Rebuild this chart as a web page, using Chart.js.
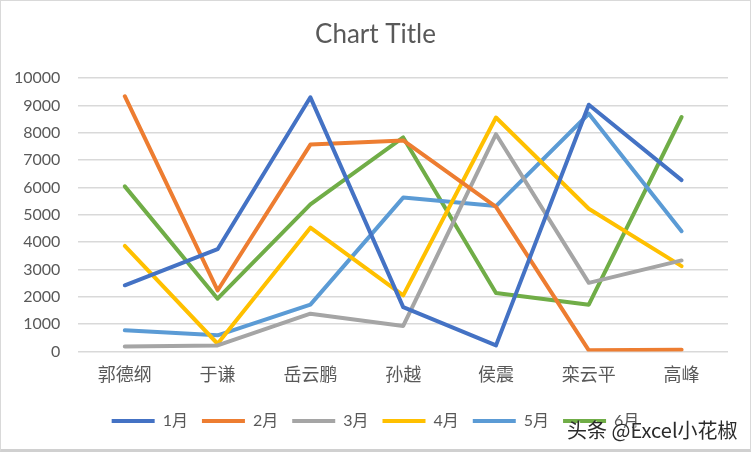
<!DOCTYPE html>
<html><head><meta charset="utf-8">
<script src="https://cdn.jsdelivr.net/npm/chart.js@4"></script>
<style>
html,body{margin:0;padding:0;background:#fff;}
#wrap{position:relative;width:749px;height:448px;border:1px solid #D9D9D9;border-bottom:3px solid #D0D0D0;}
canvas{display:block;}
</style></head><body>
<div id="wrap"><canvas id="c" width="749" height="448"></canvas></div>
<script>
const categories = ['郭德纲','于谦','岳云鹏','孙越','侯震','栾云平','高峰'];
const seriesNames = ['1月','2月','3月','4月','5月','6月'];
const jan = [2420, 3740, 9300, 1620, 220, 9030, 6270];
const feb = [9340, 2230, 7570, 7720, 5290, 40, 60];
const mar = [180, 220, 1380, 930, 7950, 2510, 3330];
const apr = [3860, 280, 4530, 2050, 8560, 5220, 3120];
const may = [770, 590, 1710, 5630, 5320, 8700, 4400];
const jun = [6040, 1930, 5380, 7830, 2140, 1710, 8580];
const yTicks = [0,1000,2000,3000,4000,5000,6000,7000,8000,9000,10000];
const colors = ['#4472C4','#ED7D31','#A5A5A5','#FFC000','#5B9BD5','#70AD47'];
const values = [jan, feb, mar, apr, may, jun];
const FONT = 'Lato, "Noto Sans CJK SC", sans-serif';

const watermark = {
  id:'watermark',
  afterLayout(chart){
    if (chart.legend) { chart.legend.left += 11; chart.legend.right += 11; }
    if (chart.titleBlock) { chart.titleBlock.left += 11; chart.titleBlock.right += 11; }
  },
  afterDraw(chart){
    const ctx = chart.ctx;
    ctx.save();
    ctx.font = '20px "Noto Sans CJK SC", sans-serif';
    ctx.textBaseline = 'middle';
    ctx.fillStyle = 'rgba(255,255,255,0.8)';
    ctx.fillText('头条 @Excel小花椒', 567, 430);
    ctx.fillStyle = '#2b2b2b';
    ctx.fillText('头条 @Excel小花椒', 566, 429);
    ctx.restore();
  }
};

new Chart(document.getElementById('c'), {
  type:'line',
  data:{
    labels: categories,
    datasets: values.map((v,i)=>({
      label: seriesNames[i],
      data: v,
      borderColor: colors[i],
      backgroundColor: colors[i],
      borderWidth: 4,
      borderCapStyle:'round',
      borderJoinStyle:'round',
      pointRadius:0,
      tension:0,
      fill:false
    }))
  },
  options:{
    responsive:false,
    animation:false,
    layout:{padding:{left:0,right:22,top:4,bottom:10}},
    plugins:{
      title:{display:true,text:'Chart Title',color:'#595959',
        font:{family:FONT,size:26,weight:'normal'},padding:{top:14,bottom:28}},
      legend:{position:'bottom',
        labels:{usePointStyle:true,pointStyle:'line',pointStyleWidth:43,
          color:'#595959',font:{family:FONT,size:16},padding:14}},
      tooltip:{enabled:false}
    },
    scales:{
      x:{offset:true,grid:{display:false},border:{display:false},
        afterFit(axis){axis.height += 8;},
        ticks:{color:'#595959',font:{family:FONT,size:18},padding:5}},
      y:{min:0,max:10000,
        afterBuildTicks(axis){axis.ticks = yTicks.map(v=>({value:v}));},
        afterFit(axis){axis.width -= 5;},
        ticks:{color:'#595959',font:{family:FONT,size:16},padding:18,
          callback:(v)=>String(v)},
        grid:{color:'#D9D9D9',lineWidth:1.5,drawTicks:false},
        border:{display:false}}
    }
  },
  plugins:[watermark]
});
</script>
</body></html>
